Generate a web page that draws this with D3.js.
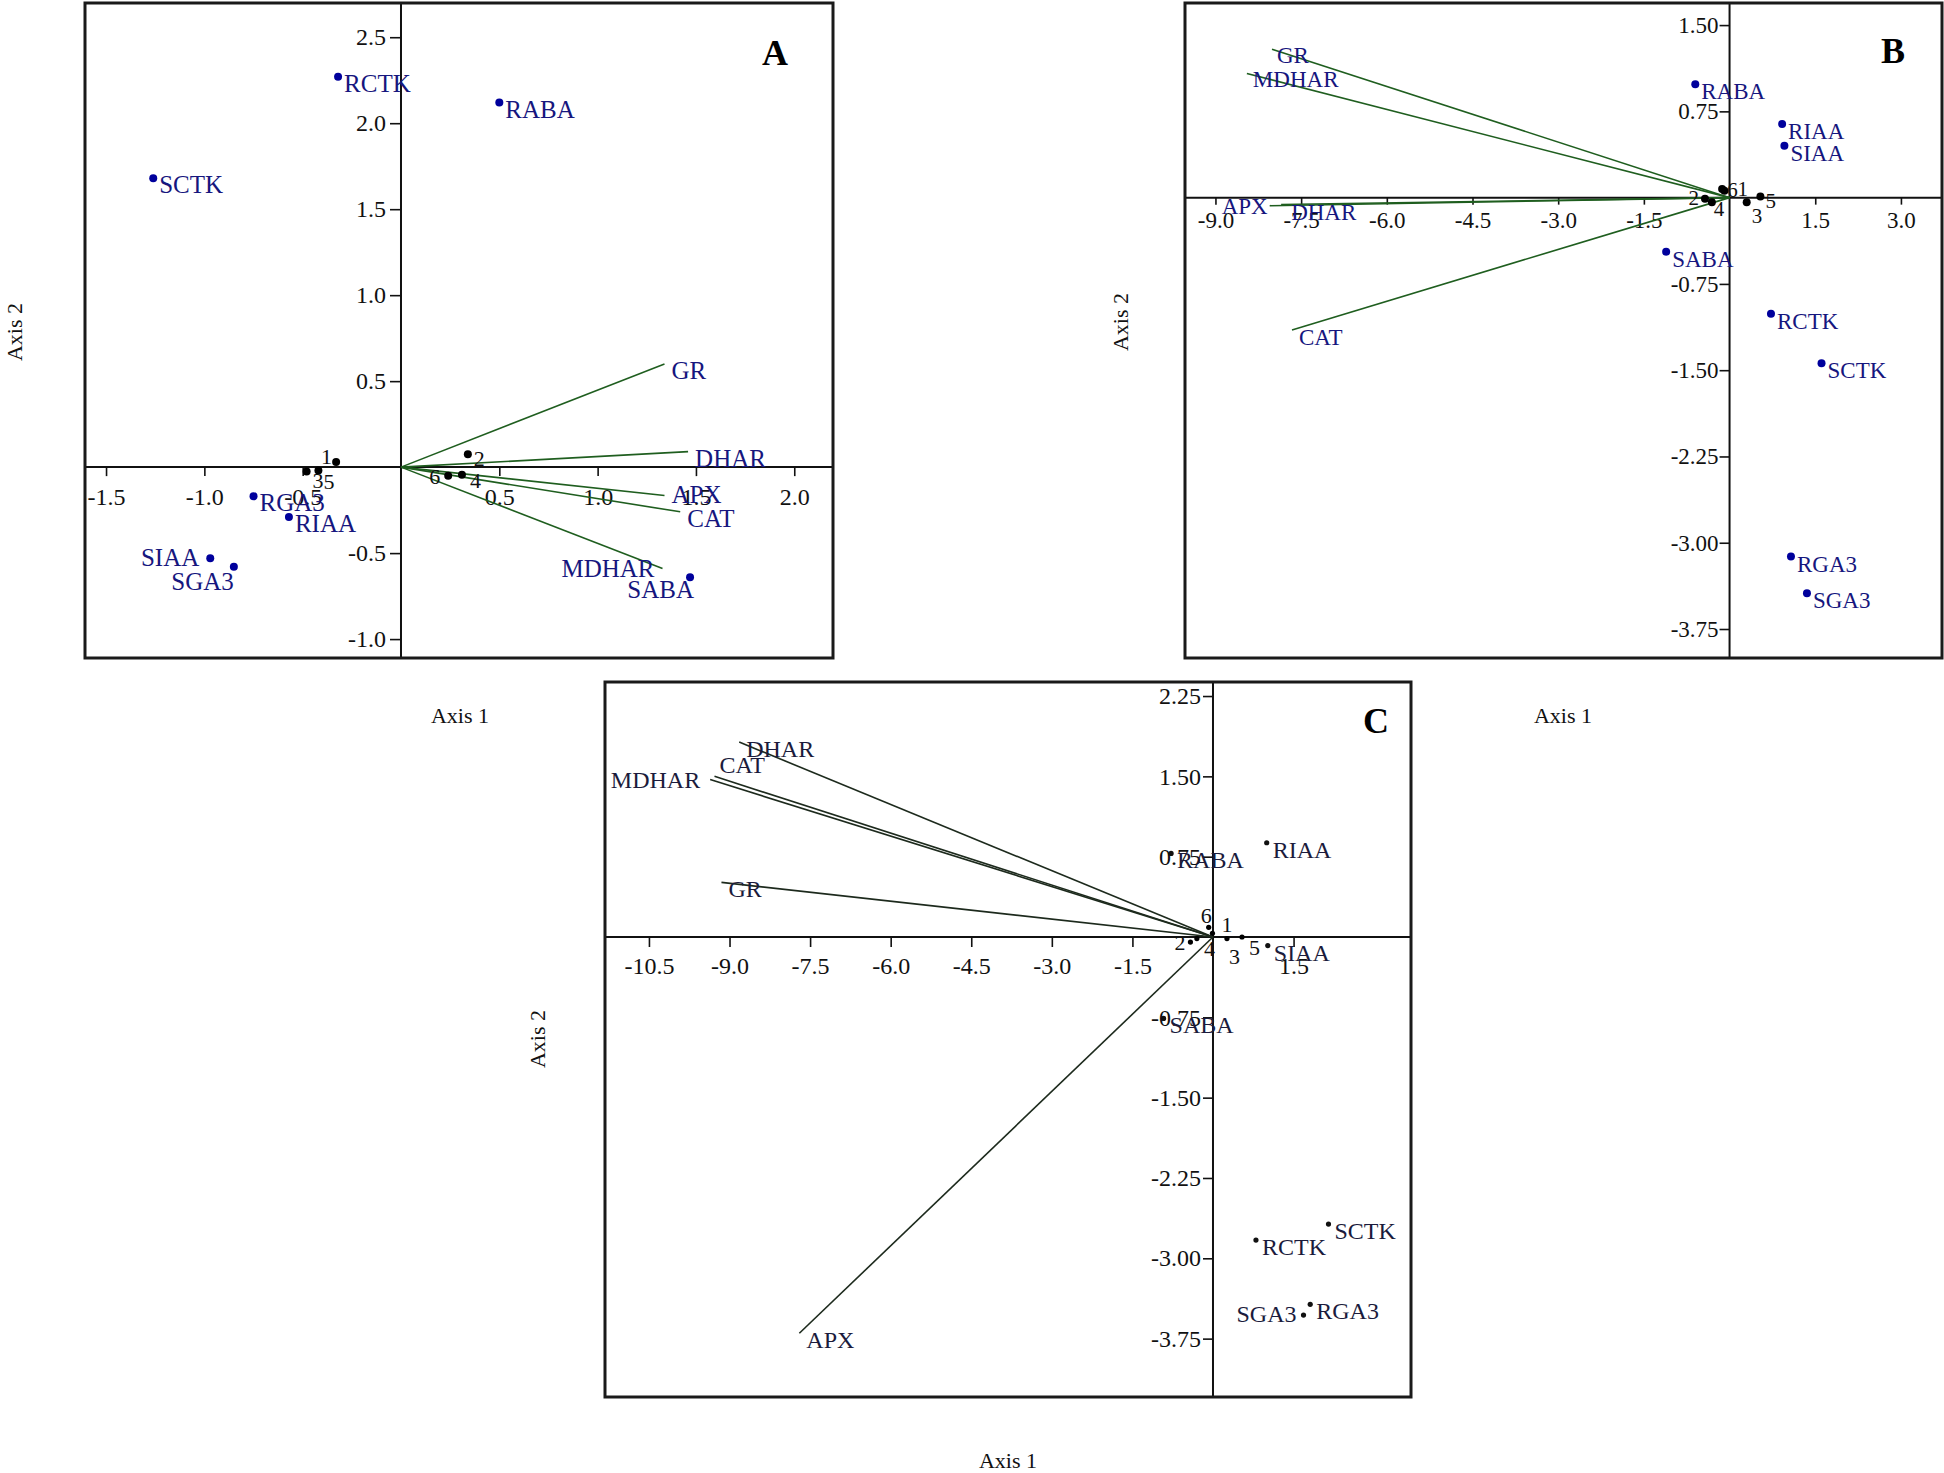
<!DOCTYPE html>
<html><head><meta charset="utf-8">
<script src="https://cdn.jsdelivr.net/npm/d3@7"></script>
<style>
body{margin:0;background:#fff}
svg text{font-family:"Liberation Serif","Times New Roman",serif}
</style>
</head><body>
<svg id="chart" width="1944" height="1473"></svg>
<script>
// ---------------- Panel A data ----------------
const aSampleNames = ["RCTK","SCTK","RABA","RGA3","RIAA","SIAA","SGA3","SABA"];
const aSampleX = [-0.32,-1.26,0.50,-0.75,-0.57,-0.97,-0.85,1.47];
const aSampleY = [2.27,1.68,2.12,-0.17,-0.29,-0.53,-0.58,-0.64];
const aVectorNames = ["GR","DHAR","APX","CAT","MDHAR"];
const aVectorX = [1.34,1.46,1.34,1.42,1.33];
const aVectorY = [0.60,0.09,-0.165,-0.26,-0.59];
const aObjectNames = ["1","2","3","4","5","6"];
const aObjectX = [-0.33,0.34,-0.48,0.31,-0.42,0.24];
const aObjectY = [0.03,0.075,-0.025,-0.045,-0.02,-0.05];
const aXTicks = [-1.5,-1.0,-0.5,0.5,1.0,1.5,2.0];
const aYTicks = [2.5,2.0,1.5,1.0,0.5,-0.5,-1.0];
const aXDomain = [-1.607,2.197];
const aYDomain = [-1.110,2.699];

// ---------------- Panel B data ----------------
const bSampleNames = ["RABA","RIAA","SIAA","SABA","RCTK","SCTK","RGA3","SGA3"];
const bSampleX = [-0.60,0.92,0.96,-1.11,0.725,1.61,1.075,1.355];
const bSampleY = [0.985,0.64,0.45,-0.47,-1.01,-1.44,-3.12,-3.44];
const bVectorNames = ["GR","MDHAR","APX","DHAR","CAT"];
const bVectorX = [-8.01,-8.45,-8.05,-7.85,-7.66];
const bVectorY = [1.29,1.08,-0.07,-0.06,-1.15];
const bObjectNames = ["1","2","3","4","5","6"];
const bObjectX = [-0.09,-0.43,0.30,-0.31,0.54,-0.13];
const bObjectY = [0.06,-0.01,-0.04,-0.04,0.01,0.076];
const bXTicks = [-9.0,-7.5,-6.0,-4.5,-3.0,-1.5,1.5,3.0];
const bYTicks = [1.50,0.75,-0.75,-1.50,-2.25,-3.00,-3.75];
const bXDomain = [-9.533,3.719];
const bYDomain = [-4.002,1.692];

// ---------------- Panel C data ----------------
const cSampleNames = ["RABA","RIAA","SIAA","SABA","RCTK","SCTK","RGA3","SGA3"];
const cSampleX = [-0.78,1.00,1.02,-0.92,0.80,2.15,1.81,1.685];
const cSampleY = [0.78,0.88,-0.08,-0.76,-2.83,-2.68,-3.43,-3.53];
const cVectorNames = ["DHAR","CAT","MDHAR","GR","APX"];
const cVectorX = [-8.82,-9.28,-9.36,-9.15,-7.70];
const cVectorY = [1.82,1.50,1.47,0.51,-3.70];
const cObjectNames = ["1","2","3","4","5","6"];
const cObjectX = [-0.01,-0.42,0.26,-0.30,0.54,-0.08];
const cObjectY = [0.035,-0.047,-0.015,-0.015,0.0,0.09];
const cXTicks = [-10.5,-9.0,-7.5,-6.0,-4.5,-3.0,-1.5,1.5];
const cYTicks = [2.25,1.50,0.75,-0.75,-1.50,-2.25,-3.00,-3.75];
const cXDomain = [-11.318,3.686];
const cYDomain = [-4.295,2.381];

// ---------------- layout / styling ----------------
const panels = [
  {
    letter:"A", box:{x0:85,y0:3,x1:833,y1:658},
    sNames:aSampleNames, sX:aSampleX, sY:aSampleY,
    vNames:aVectorNames, vX:aVectorX, vY:aVectorY,
    oNames:aObjectNames, oX:aObjectX, oY:aObjectY,
    xTicks:aXTicks, yTicks:aYTicks, xDom:aXDomain, yDom:aYDomain,
    xDec:1, yDec:1,
    xTick:{size:9,pad:12}, yTick:{size:11,pad:4},
    tickFont:24, labelFont:25, objFont:22,
    dotR:4, dotColor:"#00009c", textColor:"#16167e", vecColor:"#1f5e1f", objR:4,
    letterPos:[775,65],
    title1:[460,723], title2:[14,332],
    off:{
      SIAA:[-11,8,"end"], SGA3:[0,23,"end"], SABA:[4,21,"end"],
      APX:[7,8,"start"], MDHAR:[-8,8,"end"],
      "o1":[-4,2,"end"], "o2":[6,12,"start"], "o3":[6,17,"start"],
      "o4":[8,13,"start"], "o5":[5,18,"start"], "o6":[-8,8,"end"]
    }
  },
  {
    letter:"B", box:{x0:1185,y0:3,x1:1942,y1:658},
    sNames:bSampleNames, sX:bSampleX, sY:bSampleY,
    vNames:bVectorNames, vX:bVectorX, vY:bVectorY,
    oNames:bObjectNames, oX:bObjectX, oY:bObjectY,
    xTicks:bXTicks, yTicks:bYTicks, xDom:bXDomain, yDom:bYDomain,
    xDec:1, yDec:2,
    xTick:{size:7,pad:7}, yTick:{size:10,pad:1},
    tickFont:23, labelFont:23, objFont:21,
    dotR:4, dotColor:"#00009c", textColor:"#16167e", vecColor:"#1f5e1f", objR:4,
    letterPos:[1893,63],
    title1:[1563,723], title2:[1120,322],
    off:{
      GR:[5,14,"start"], MDHAR:[6,14,"start"],
      APX:[-2,8,"end"], DHAR:[10,15,"start"], CAT:[7,15,"start"],
      "o1":[13,5,"start"], "o2":[-6,6,"end"], "o3":[5,21,"start"],
      "o4":[2,14,"start"], "o5":[5,12,"start"], "o6":[5,8,"start"]
    }
  },
  {
    letter:"C", box:{x0:605,y0:682,x1:1411,y1:1397},
    sNames:cSampleNames, sX:cSampleX, sY:cSampleY,
    vNames:cVectorNames, vX:cVectorX, vY:cVectorY,
    oNames:cObjectNames, oX:cObjectX, oY:cObjectY,
    xTicks:cXTicks, yTicks:cYTicks, xDom:cXDomain, yDom:cYDomain,
    xDec:1, yDec:2,
    xTick:{size:10,pad:10}, yTick:{size:10,pad:2},
    tickFont:24, labelFont:24, objFont:22,
    dotR:2.6, dotColor:"#111111", textColor:"#1b1b3c", vecColor:"#1d2a1d", objR:2.6,
    letterPos:[1376,733],
    title1:[1008,1468], title2:[537,1039],
    off:{
      SGA3:[-7,7,"end"], MDHAR:[-10,8,"end"], CAT:[5,-3,"start"],
      "o1":[9,-1,"start"], "o2":[-5,8,"end"], "o3":[2,25,"start"],
      "o4":[7,17,"start"], "o5":[7,18,"start"], "o6":[-8,-4,"start"]
    }
  }
];

const svg = d3.select("#chart");
svg.append("rect").attr("width",1944).attr("height",1473).attr("fill","#fff");

function fmt(dec){ return d => d.toFixed(dec); }

panels.forEach(p => {
  const b = p.box;
  const x = d3.scaleLinear().domain(p.xDom).range([b.x0,b.x1]);
  const y = d3.scaleLinear().domain(p.yDom).range([b.y1,b.y0]);
  const g = svg.append("g");

  // axis lines through origin
  g.append("line").attr("x1",b.x0).attr("x2",b.x1).attr("y1",y(0)).attr("y2",y(0))
    .attr("stroke","#111").attr("stroke-width",2);
  g.append("line").attr("x1",x(0)).attr("x2",x(0)).attr("y1",b.y0).attr("y2",b.y1)
    .attr("stroke","#111").attr("stroke-width",2);

  // ticks
  const xa = g.append("g").attr("transform",`translate(0,${y(0)})`)
    .call(d3.axisBottom(x).tickValues(p.xTicks).tickFormat(fmt(p.xDec))
      .tickSize(p.xTick.size).tickPadding(p.xTick.pad));
  const ya = g.append("g").attr("transform",`translate(${x(0)},0)`)
    .call(d3.axisLeft(y).tickValues(p.yTicks).tickFormat(fmt(p.yDec))
      .tickSize(p.yTick.size).tickPadding(p.yTick.pad));
  [xa,ya].forEach(a => {
    a.select(".domain").remove();
    a.selectAll(".tick line").attr("stroke","#111").attr("stroke-width",1.6);
    a.selectAll(".tick text").attr("fill","#111")
      .style("font-family",'"Liberation Serif",serif').style("font-size",p.tickFont+"px");
  });

  const off = (key, def) => p.off[key] || def;

  // vectors
  const vecs = p.vNames.map((n,i)=>({n, vx:p.vX[i], vy:p.vY[i]}));
  g.selectAll(".vec").data(vecs).join("line")
    .attr("x1",x(0)).attr("y1",y(0))
    .attr("x2",d=>x(d.vx)).attr("y2",d=>y(d.vy))
    .attr("stroke",p.vecColor).attr("stroke-width",1.6);
  g.selectAll(".vlab").data(vecs).join("text")
    .attr("x",d=>x(d.vx)+off(d.n,[7,15,"start"])[0])
    .attr("y",d=>y(d.vy)+off(d.n,[7,15,"start"])[1])
    .attr("text-anchor",d=>off(d.n,[7,15,"start"])[2])
    .attr("fill",p.textColor).style("font-size",p.labelFont+"px")
    .text(d=>d.n);

  // objects (numbered)
  const objs = p.oNames.map((n,i)=>({n, ox:p.oX[i], oy:p.oY[i]}));
  g.selectAll(".obj").data(objs).join("circle")
    .attr("cx",d=>x(d.ox)).attr("cy",d=>y(d.oy)).attr("r",p.objR).attr("fill","#000");
  g.selectAll(".olab").data(objs).join("text")
    .attr("x",d=>x(d.ox)+off("o"+d.n,[6,12,"start"])[0])
    .attr("y",d=>y(d.oy)+off("o"+d.n,[6,12,"start"])[1])
    .attr("text-anchor",d=>off("o"+d.n,[6,12,"start"])[2])
    .attr("fill","#111").style("font-size",p.objFont+"px")
    .text(d=>d.n);

  // samples
  const samps = p.sNames.map((n,i)=>({n, sx:p.sX[i], sy:p.sY[i]}));
  g.selectAll(".samp").data(samps).join("circle")
    .attr("cx",d=>x(d.sx)).attr("cy",d=>y(d.sy)).attr("r",p.dotR).attr("fill",p.dotColor);
  g.selectAll(".slab").data(samps).join("text")
    .attr("x",d=>x(d.sx)+off(d.n,[6,15,"start"])[0])
    .attr("y",d=>y(d.sy)+off(d.n,[6,15,"start"])[1])
    .attr("text-anchor",d=>off(d.n,[6,15,"start"])[2])
    .attr("fill",p.textColor).style("font-size",p.labelFont+"px")
    .text(d=>d.n);

  // frame
  g.append("rect").attr("x",b.x0).attr("y",b.y0).attr("width",b.x1-b.x0).attr("height",b.y1-b.y0)
    .attr("fill","none").attr("stroke","#1a1a1a").attr("stroke-width",3);

  // panel letter
  g.append("text").attr("x",p.letterPos[0]).attr("y",p.letterPos[1])
    .attr("text-anchor","middle").style("font-size","36px").style("font-weight","bold")
    .attr("fill","#000").text(p.letter);

  // axis titles
  g.append("text").attr("x",p.title1[0]).attr("y",p.title1[1]).attr("text-anchor","middle")
    .style("font-size","22px").attr("fill","#111").text("Axis 1");
  g.append("text").attr("transform",`translate(${p.title2[0]},${p.title2[1]}) rotate(-90)`)
    .attr("text-anchor","middle").attr("dy","0.35em")
    .style("font-size","22px").attr("fill","#111").text("Axis 2");
});
</script>
</body></html>
